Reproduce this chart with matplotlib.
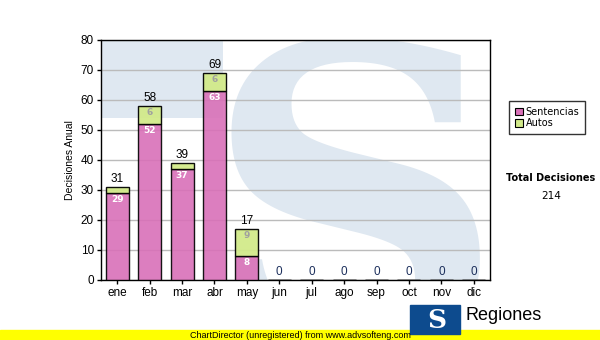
import matplotlib
matplotlib.use("Agg")
import matplotlib.pyplot as plt
from matplotlib.patches import Rectangle, Patch
import numpy as np

meses = ['ene', 'feb', 'mar', 'abr', 'may', 'jun', 'jul', 'ago', 'sep', 'oct', 'nov', 'dic']
sentencias = [29, 52, 37, 63, 8, 0, 0, 0, 0, 0, 0, 0]
autos = [2, 6, 2, 6, 9, 0, 0, 0, 0, 0, 0, 0]
total_decisiones = 214

rosa = '#d970b8'
verde = '#d2ea8a'
azul_claro = '#dfe8f1'

fig = plt.figure(figsize=(6, 3.4), dpi=100)
ax = fig.add_axes([101/600, 1-280/340, 389/600, 240/340])

x = np.arange(len(meses))
sent = np.array(sentencias)
aut = np.array(autos)
tot = sent + aut

# watermark del logo
ax.add_patch(Rectangle((-0.5, 54), 3.75, 26, color=azul_claro, zorder=0, lw=0))
ax.text(7.3, -22, 'S', fontsize=300, fontweight='bold', family='DejaVu Serif',
        color=azul_claro, ha='center', va='baseline', zorder=0.5, clip_on=True)

ax.set_axisbelow(True)
ax.yaxis.grid(True, color='#bbbbbb', lw=1)
ax.bar(x, sent, width=0.71, color=rosa, alpha=0.9, edgecolor='black', lw=1, zorder=3)
ax.bar(x, aut, bottom=sent, width=0.71, color=verde, alpha=0.95, edgecolor='black', lw=1, zorder=3)

for i in range(len(meses)):
    if tot[i] > 0:
        ax.text(x[i], tot[i] + 0.6, str(tot[i]), ha='center', va='bottom',
                fontsize=8.5, family='Liberation Sans', zorder=4)
    else:
        ax.text(x[i], 0.6, '0', ha='center', va='bottom', fontsize=8.5,
                family='Liberation Sans', color='#1c2f5c', zorder=4)
    if sent[i] > 0:
        ax.text(x[i], sent[i] - 0.8, str(sent[i]), ha='center', va='top',
                fontsize=6.5, color='white', fontweight='bold', zorder=4)
    if aut[i] > 3:
        ax.text(x[i], tot[i] - 0.8, str(aut[i]), ha='center', va='top',
                fontsize=6.5, color='#a0a0a0', fontweight='bold', zorder=4)

ax.set_xlim(-0.5, 11.5)
ax.set_ylim(0, 80)
ax.set_yticks(range(0, 81, 10))
ax.set_xticks(x)
ax.set_xticklabels(meses, family='Liberation Sans', fontsize=8.5)
for lab in ax.get_yticklabels():
    lab.set_family('Liberation Sans')
    lab.set_fontsize(8.5)
ax.tick_params(direction='out', length=3, width=1, colors='black', pad=2)
for s in ax.spines.values():
    s.set_color('black')
    s.set_linewidth(1)
ax.set_ylabel('Decisiones Anual', family='Liberation Sans', fontsize=7.5, labelpad=4)

# leyenda
handles = [Patch(facecolor=rosa, edgecolor='black', lw=0.8),
           Patch(facecolor=verde, edgecolor='black', lw=0.8)]
leg = ax.legend(handles, ['Sentencias', 'Autos'], loc='upper left',
                bbox_to_anchor=(509/600, 1-101/340), bbox_transform=fig.transFigure,
                prop={'family': 'DejaVu Sans', 'size': 7}, frameon=True, fancybox=False,
                handlelength=0.8, handleheight=0.8, handletextpad=0.3, borderpad=0.6,
                labelspacing=0.15, borderaxespad=0)
leg.get_frame().set_edgecolor('black')
leg.get_frame().set_linewidth(1)

fig.text(551/600, 1-178/340, 'Total Decisiones', ha='center', va='center',
         fontsize=7, fontweight='bold', family='DejaVu Sans')
fig.text(551/600, 1-196/340, str(total_decisiones), ha='center', va='center',
         fontsize=7.5, family='DejaVu Sans')

# pie
fig.patches.append(Rectangle((0, 0), 1, 10/340, transform=fig.transFigure,
                             color='#ffff00', zorder=1))
fig.text(300/600, 5/340, 'ChartDirector (unregistered) from www.advsofteng.com',
         ha='center', va='center', fontsize=6.5, family='Liberation Sans', zorder=3)
fig.patches.append(Rectangle((410/600, 6/340), 50/600, 29/340, transform=fig.transFigure,
                             color='#0d4b8e', zorder=2))
fig.text(437/600, 19/340, 'S', ha='center', va='center', fontsize=19, fontweight='bold',
         family='DejaVu Serif', color='white', zorder=3)
fig.text(466/600, 24/340, 'Regiones', ha='left', va='center', fontsize=13,
         family='Liberation Sans', zorder=3)

fig.savefig('out.png', dpi=100)
